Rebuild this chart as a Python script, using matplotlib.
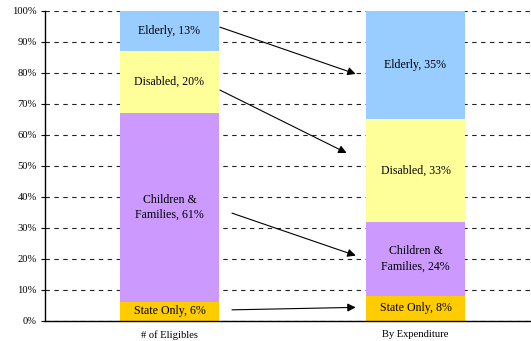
import matplotlib
matplotlib.use("Agg")
import matplotlib.pyplot as plt
import numpy as np

categories = ["# of Eligibles", "By Expenditure"]
segments = ["State Only", "Children &\nFamilies", "Disabled", "Elderly"]
values = {
    "State Only": [6, 8],
    "Children &\nFamilies": [61, 24],
    "Disabled": [20, 33],
    "Elderly": [13, 35],
}
colors = {
    "State Only": "#FFCC00",
    "Children &\nFamilies": "#CC99FF",
    "Disabled": "#FFFF99",
    "Elderly": "#99CCFF",
}
yticks = [0, 10, 20, 30, 40, 50, 60, 70, 80, 90, 100]
# arrows: (x_start, y_start, x_end, y_end) in data coordinates
arrows = [
    (0.205, 94.7, 0.757, 79.6),
    (0.205, 74.4, 0.720, 54.1),
    (0.254, 34.7, 0.757, 21.0),
    (0.254, 3.5, 0.757, 4.3),
]

plt.rcParams['font.family'] = ['Liberation Serif', 'DejaVu Serif']

fig = plt.figure(figsize=(5.31, 3.41), dpi=100)
ax = fig.add_axes([45/531, 20.3/341, 486/531, 310/341])

x = np.arange(len(categories))
width = 0.402
bottom = np.zeros(len(categories))
for seg in segments:
    v = np.array(values[seg], dtype=float)
    ax.bar(x, v, width, bottom=bottom, color=colors[seg], edgecolor='none', zorder=2)
    for i in range(len(categories)):
        ax.text(x[i], bottom[i] + v[i] / 2, f"{seg}, {int(v[i])}%",
                ha='center', va='center', fontsize=8.6, color='black', zorder=3,
                linespacing=1.35)
    bottom += v

for (xs, ys, xe, ye) in arrows:
    ax.annotate("", xy=(xe, ye), xytext=(xs, ys),
                arrowprops=dict(arrowstyle="-|>", color='black', lw=0.8,
                                mutation_scale=12, shrinkA=0, shrinkB=0),
                zorder=4)

ax.set_ylim(0, 100)
ax.set_xlim(-0.506, 1.4695)
ax.set_yticks(yticks)
ax.set_yticklabels([f"{t}%" for t in yticks], fontsize=7.6)
ax.set_xticks(x)
ax.set_xticklabels(categories, fontsize=7.6)
ax.tick_params(axis='x', length=0, pad=7)
ax.tick_params(axis='y', length=3, width=0.8, pad=3)
ax.yaxis.grid(True, linestyle=(0, (4, 4)), color='#222222', linewidth=0.8, zorder=1)
ax.set_axisbelow(True)
for s in ['top', 'right']:
    ax.spines[s].set_visible(False)
ax.spines['left'].set_linewidth(1.0)
ax.spines['bottom'].set_linewidth(1.0)

fig.savefig("out.png", dpi=100)
